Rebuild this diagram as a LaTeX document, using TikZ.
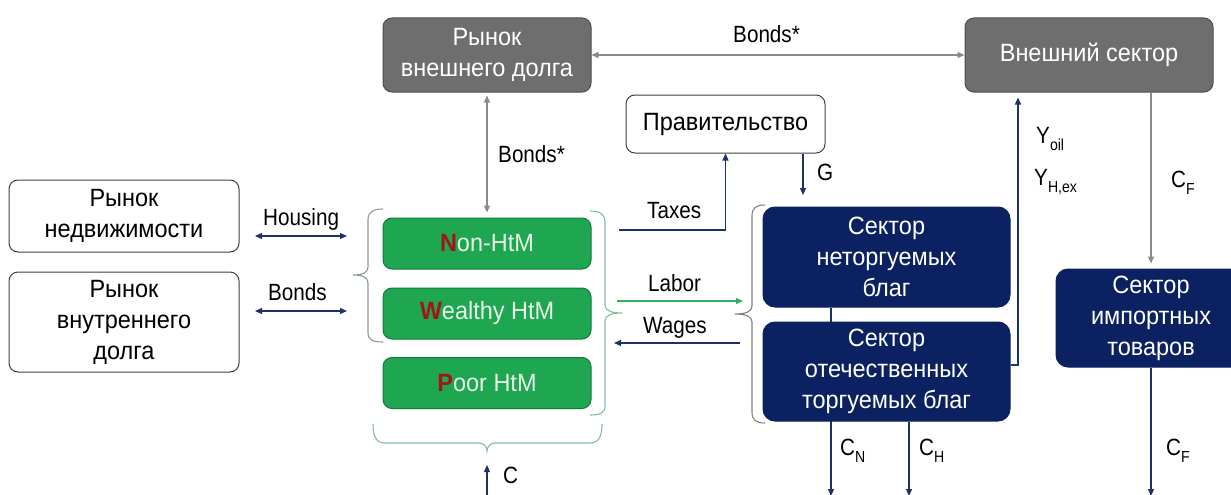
\documentclass[tikz,border=0pt]{standalone}
\usepackage{fontspec}
\setmainfont{Liberation Sans}[FakeStretch=0.94]
\newfontfamily\lblfont{Liberation Sans}[FakeStretch=0.88]
\usetikzlibrary{arrows.meta,backgrounds}
\definecolor{boxgray}{HTML}{6E6E6E}
\definecolor{boxgrayd}{HTML}{4D4D4D}
\definecolor{hhgreen}{HTML}{1EA650}
\definecolor{hhgreend}{HTML}{137A3A}
\definecolor{hhtext}{HTML}{E6F7EA}
\definecolor{redl}{HTML}{A31515}
\definecolor{navy}{HTML}{0B2161}
\definecolor{arrgray}{HTML}{8A8A8A}
\definecolor{lnavy}{HTML}{1D3366}
\definecolor{labgreen}{HTML}{2BB35E}
\definecolor{bracegreen}{HTML}{7FBF9A}
\definecolor{bracegray}{HTML}{8C9A94}
\newcommand\lsub[1]{\raisebox{-0.33em}{\fontsize{16}{16}\selectfont #1}}
\tikzset{
  box/.style={rounded corners=9pt, inner sep=0pt, align=center,
              font=\fontsize{25}{31}\selectfont, line width=1pt},
  graybox/.style={box, fill=boxgray, draw=boxgrayd, text=white},
  whitebox/.style={box, fill=white, draw=black!75},
  greenbox/.style={box, fill=hhgreen, draw=hhgreend, text=hhtext},
  navybox/.style={box, fill=navy, draw=navy, text=white, rounded corners=12pt},
  lbl/.style={font=\lblfont\fontsize{23.5}{26}\selectfont, inner sep=0pt, anchor=base west},
  >={Triangle[length=7pt,width=6pt]},
  conn/.style={line width=1.2pt},
  garr/.style={conn, draw=arrgray},
  narr/.style={conn, draw=lnavy},
  larr/.style={conn, draw=labgreen},
  bracelinegreen/.style={line width=1.1pt, draw=bracegreen},
  bracelinegray/.style={line width=1.1pt, draw=bracegray},
  bracelinesector/.style={line width=1.1pt, draw=black!50},
}
\begin{document}
\begin{tikzpicture}[x=1pt,y=-1pt]
\useasboundingbox (0,0) rectangle (1231,495);

% boxes
\node[graybox, minimum width=208pt, minimum height=74pt] (extdebt) at (487,55) {Рынок\\внешнего долга};
\node[graybox, minimum width=248pt, minimum height=74pt] (ext) at (1089,55) {Внешний сектор};
\node[whitebox, minimum width=199pt, minimum height=58pt] (gov) at (725.5,124) {Правительство};
\node[whitebox, minimum width=230pt, minimum height=72pt] (realty) at (124,216) {Рынок\\недвижимости};
\node[whitebox, minimum width=230pt, minimum height=100pt] (ddebt) at (124,322) {Рынок\\внутреннего\\долга};
\node[greenbox, minimum width=208pt, minimum height=51pt] (nonhtm) at (487,243.5) {\textcolor{redl}{\bfseries N}on-HtM};
\node[greenbox, minimum width=208pt, minimum height=51pt] (wealthy) at (487,313.5) {\textcolor{redl}{\bfseries W}ealthy HtM};
\node[greenbox, minimum width=208pt, minimum height=51pt] (poor) at (487,383) {\textcolor{redl}{\bfseries P}oor HtM};
\node[navybox, minimum width=247pt, minimum height=100pt] (nontrad) at (886.5,257) {Сектор\\неторгуемых\\благ};
\node[navybox, minimum width=247pt, minimum height=99pt] (trad) at (886.5,371.5) {Сектор\\отечественных\\торгуемых благ};
\node[navybox, minimum width=190pt, minimum height=98pt] (imp) at (1151,318) {Сектор\\импортных\\товаров};

% labels
\node[lbl] (lbondsx) at (733,43) {Bonds*};
\node[lbl] (lbondsv) at (498,162) {Bonds*};
\node[lbl] (lhousing) at (263,225) {Housing};
\node[lbl] (lbonds) at (268,300) {Bonds};
\node[lbl] (ltaxes) at (647,218) {Taxes};
\node[lbl] (lg) at (817,180) {G};
\node[lbl] (llabor) at (648,291) {Labor};
\node[lbl] (lwages) at (643,333) {Wages};
\node[lbl] (lyoil) at (1036,143) {Y\lsub{oil}};
\node[lbl] (lyhex) at (1034,185) {Y\lsub{H,ex}};
\node[lbl] (lcf1) at (1171,187) {C\lsub{F}};
\node[lbl] (lcn) at (840,455) {C\lsub{N}};
\node[lbl] (lch) at (919,455) {C\lsub{H}};
\node[lbl] (lcf2) at (1166,455) {C\lsub{F}};
\node[lbl] (lc) at (503,483) {C};

% coordinates for free ends
\coordinate (hA) at (255,236);
\coordinate (hB) at (347,236);
\coordinate (bA) at (255,311);
\coordinate (bB) at (347,311);
\coordinate (taxstart) at (619,230);
\coordinate (gend) at (803,195);
\coordinate (labA) at (617,301);
\coordinate (labB) at (743,301);
\coordinate (wagA) at (740,343);
\coordinate (wagB) at (614,343);
\coordinate (ycorner) at (1018,365);
\coordinate (cnend) at (831,496);
\coordinate (chend) at (909,496);
\coordinate (cfend) at (1151,496);
\coordinate (cstart) at (487,497);
\coordinate (cend) at (487,465);

\begin{pgfonlayer}{background}
% connectors
\draw[garr,<->] (extdebt.east) -- (ext.west);
\draw[garr,<->,shorten <=3pt,shorten >=5pt] (extdebt.south) -- (nonhtm.north);
\draw[narr,<->] (hA) -- (hB);
\draw[narr,<->] (bA) -- (bB);
\draw[narr,->] (taxstart) -| (gov.south);
\draw[narr,->] (gov.south -| gend) -- (gend);
\draw[larr,->] (labA) -- (labB);
\draw[narr,->] (wagA) -- (wagB);
\draw[narr,->,shorten >=5pt] (trad.east |- ycorner) -- (ycorner) -- (ycorner |- ext.south);
\draw[garr,->,shorten >=5pt] (ext.south -| imp.north) -- (imp.north);
\draw[narr,->] (nontrad.south -| cnend) -- (cnend);
\draw[narr,->] (trad.south -| chend) -- (chend);
\draw[narr,->] (imp.south) -- (cfend);
\draw[narr,->] (cstart) -- (cend);

% braces
\draw[bracelinegray] (383,209) .. controls (373,209) and (368,212) .. (368,220) -- (368,267)
  .. controls (368,273) and (362,275) .. (353,275) .. controls (362,275) and (368,277) .. (368,283)
  -- (368,333) .. controls (368,340) and (373,342) .. (383,342);
\draw[bracelinegreen] (590,211) .. controls (600,211) and (605,214) .. (605,222) -- (605,305)
  .. controls (605,311) and (612,313) .. (622,313) .. controls (612,313) and (605,315) .. (605,321)
  -- (605,406) .. controls (605,413) and (600,415) .. (590,415);
\draw[bracelinegreen] (373,424) .. controls (373,436) and (376,443) .. (385,443) -- (479,443)
  .. controls (484,443) and (487,447) .. (487,451) .. controls (487,447) and (490,443) .. (495,443)
  -- (590,443) .. controls (599,443) and (602,436) .. (602,424);
\draw[bracelinesector] (765,205) .. controls (756,205) and (752,208) .. (752,216) -- (752,306)
  .. controls (752,312) and (745,314) .. (735,314) .. controls (745,314) and (752,316) .. (752,322)
  -- (752,412) .. controls (752,420) and (756,423) .. (765,423);
\end{pgfonlayer}
\end{tikzpicture}
\end{document}
